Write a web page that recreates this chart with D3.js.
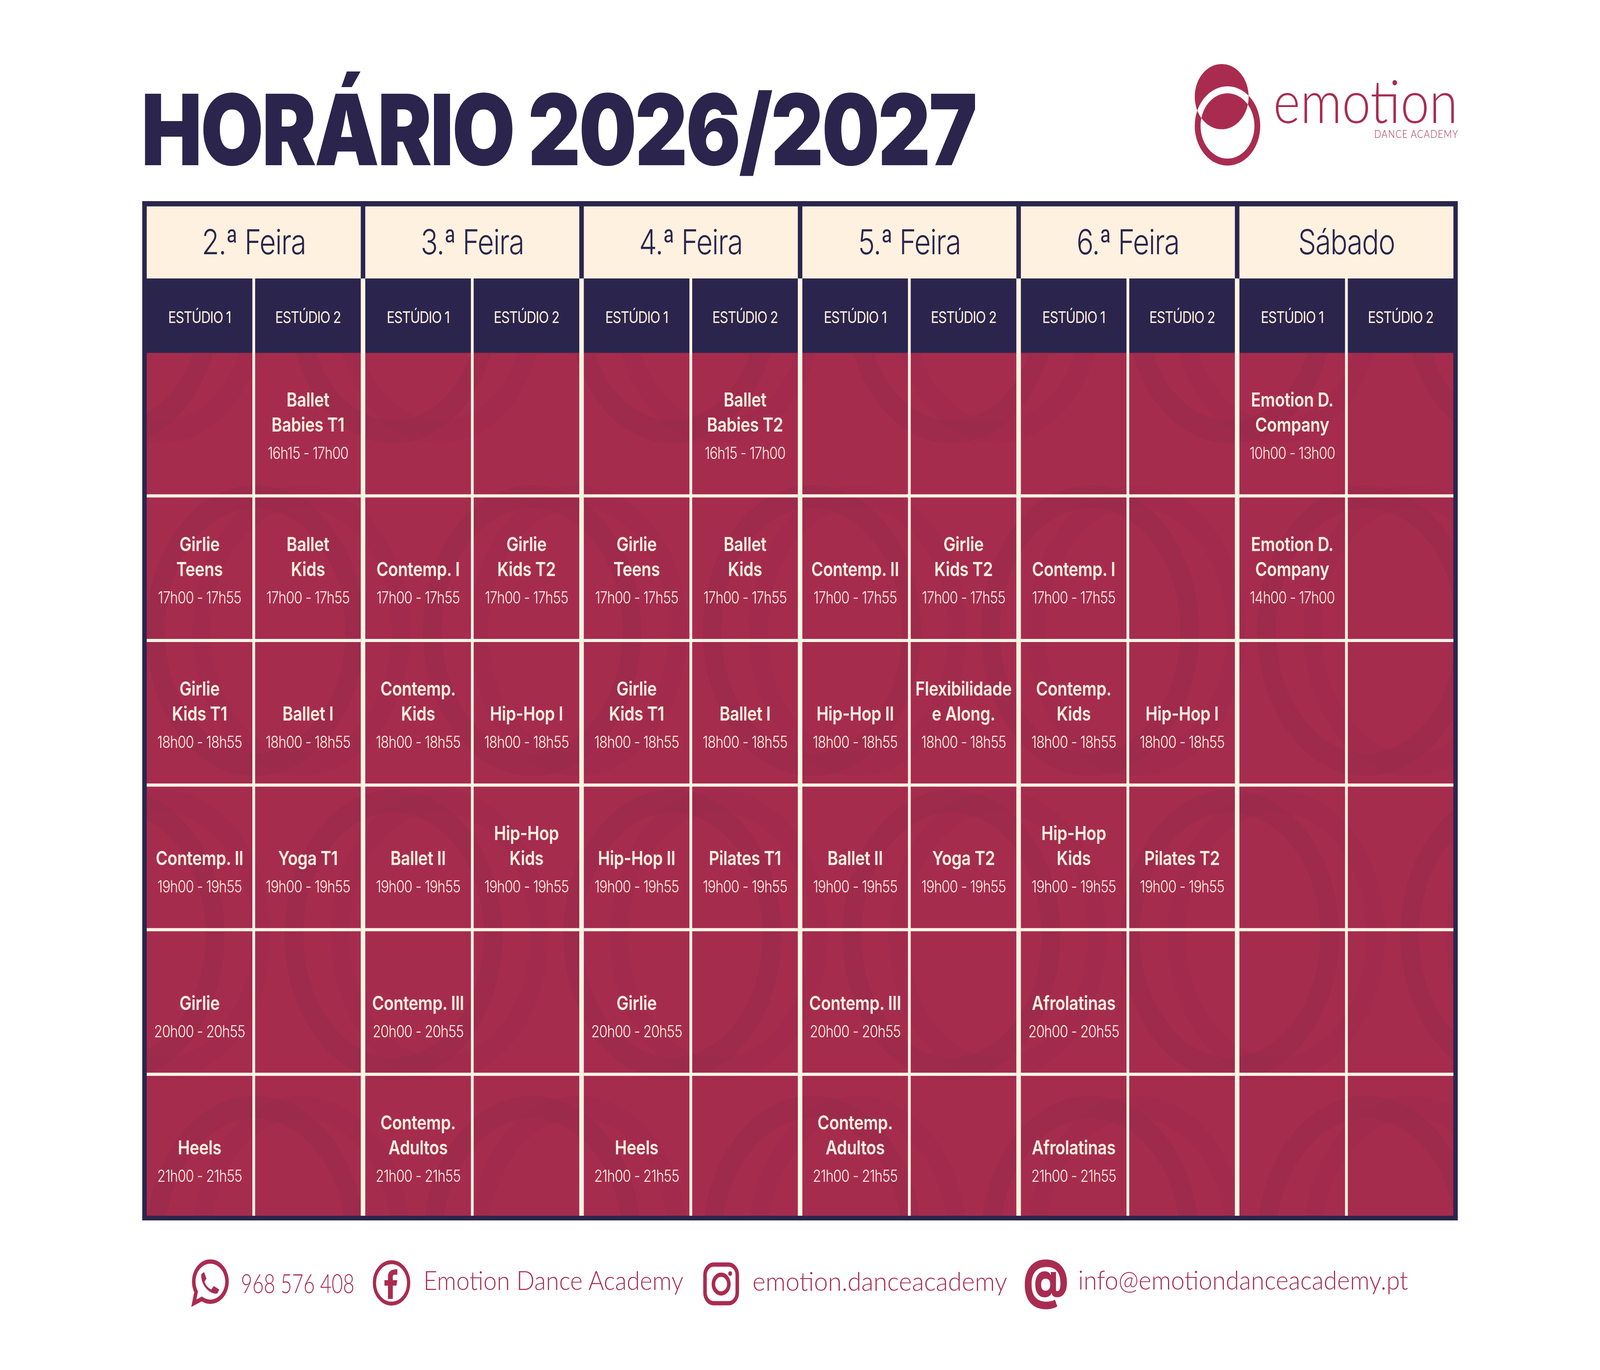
<!DOCTYPE html>
<html><head><meta charset="utf-8">
<script src="https://cdn.jsdelivr.net/npm/d3@7"></script>
<style>html,body{margin:0;padding:0;background:#fff;overflow:hidden}svg{display:block}</style>
</head><body><div id="chart"></div>
<script>
const days=["2.ª Feira","3.ª Feira","4.ª Feira","5.ª Feira","6.ª Feira","Sábado"];
const studios=["ESTÚDIO 1","ESTÚDIO 2"];
const slotTimes=["16h15 - 17h00","17h00 - 17h55","18h00 - 18h55","19h00 - 19h55","20h00 - 20h55","21h00 - 21h55"];
const saturdayTimes=["10h00 - 13h00","14h00 - 17h00",null,null,null,null];
const mon1=[null,"Girlie|Teens","Girlie|Kids T1","Contemp. II","Girlie","Heels"];
const mon2=["Ballet|Babies T1","Ballet|Kids","Ballet I","Yoga T1",null,null];
const tue1=[null,"Contemp. I","Contemp.|Kids","Ballet II","Contemp. III","Contemp.|Adultos"];
const tue2=[null,"Girlie|Kids T2","Hip-Hop I","Hip-Hop|Kids",null,null];
const wed1=[null,"Girlie|Teens","Girlie|Kids T1","Hip-Hop II","Girlie","Heels"];
const wed2=["Ballet|Babies T2","Ballet|Kids","Ballet I","Pilates T1",null,null];
const thu1=[null,"Contemp. II","Hip-Hop II","Ballet II","Contemp. III","Contemp.|Adultos"];
const thu2=[null,"Girlie|Kids T2","Flexibilidade|e Along.","Yoga T2",null,null];
const fri1=[null,"Contemp. I","Contemp.|Kids","Hip-Hop|Kids","Afrolatinas","Afrolatinas"];
const fri2=[null,null,"Hip-Hop I","Pilates T2",null,null];
const sat1=["Emotion D.|Company","Emotion D.|Company",null,null,null,null];
const sat2=[null,null,null,null,null,null];
const columns=[mon1,mon2,tue1,tue2,wed1,wed2,thu1,thu2,fri1,fri2,sat1,sat2];

const W=4961,H=3508;
const NAVY="#2B254D",CRIM="#A62C4E",RING="#98294A",CREAM="#FFF1DF",LINE="#FFF5E4",LOGO="#A92C50";
const FONT="Inter, sans-serif",GEO="Lato, sans-serif";
const svg=d3.select("#chart").append("svg").style("width","100vw").style("height","100vh")
  .attr("viewBox",`0 0 ${W} ${H}`).attr("preserveAspectRatio","none");
svg.append("rect").attr("width",W).attr("height",H).attr("fill","#fff");

const L=455,R=4506,T=528.5,dayB=713,stuB=903.5,B=3113;
const x0=d3.scaleBand().domain(days).range([L,R+0.5]).paddingInner(14/677.5);
const x1=d3.scaleBand().domain(studios).range([0,x0.bandwidth()]).paddingInner(8.5/332);
const y=d3.scaleBand().domain(d3.range(slotTimes.length)).range([stuB,B+4]).paddingInner(8/368);

svg.append("text").attr("x",438).attr("y",423).attr("font-family",FONT).attr("font-weight",900)
  .attr("font-size",252).attr("fill",NAVY).attr("textLength",2592).attr("lengthAdjust","spacing").text("HORÁRIO 2026/2027");

const defs=svg.append("defs");
defs.append("clipPath").attr("id","disc").append("circle").attr("cx",3788).attr("cy",247.5).attr("r",83.5);
defs.append("clipPath").attr("id","body").append("rect").attr("x",L).attr("y",stuB).attr("width",R-L).attr("height",B-stuB);
const logo=svg.append("g");
logo.append("circle").attr("cx",3806).attr("cy",322.5).attr("r",92.5).attr("fill","none").attr("stroke",LOGO).attr("stroke-width",18);
logo.append("circle").attr("cx",3788).attr("cy",247.5).attr("r",83.5).attr("fill",LOGO);
logo.append("circle").attr("cx",3806).attr("cy",322.5).attr("r",92.5).attr("fill","none").attr("stroke","#fff").attr("stroke-width",18).attr("clip-path","url(#disc)");
svg.append("text").attr("x",3948).attr("y",315).attr("font-family",GEO).attr("font-weight",300).attr("font-size",152)
  .attr("fill",LOGO).attr("textLength",572).attr("lengthAdjust","spacingAndGlyphs").text("emotion");
svg.append("text").attr("x",4261).attr("y",353).attr("font-family",GEO).attr("font-weight",300).attr("font-size",28)
  .attr("fill",LOGO).attr("textLength",259).text("DANCE ACADEMY");

svg.append("rect").attr("x",441).attr("y",515).attr("width",4520-441).attr("height",3125-515).attr("fill",NAVY);
svg.append("rect").attr("x",L).attr("y",stuB).attr("width",R-L).attr("height",B-stuB).attr("fill",CRIM);

const ringX=[358,1220,2085,2950,3814,4680],ringX2=[791,1650,2517,3380,4236];
const ringRows=[[790,ringX,320,345],[1615,ringX2,338,372],[2394,ringX,338,372],[3178,ringX2,338,372]];
const rings=svg.append("g").attr("clip-path","url(#body)");
ringRows.forEach(([cy,xs,rx,ry])=>xs.forEach(cx=>{
  rings.append("ellipse").attr("cx",cx+143).attr("cy",cy).attr("rx",rx-29).attr("ry",ry-29).attr("fill","none")
    .attr("stroke",RING).attr("stroke-opacity",.2).attr("stroke-width",58);
  rings.append("ellipse").attr("cx",cx).attr("cy",cy).attr("rx",rx-29).attr("ry",ry-29).attr("fill","none")
    .attr("stroke",RING).attr("stroke-opacity",.55).attr("stroke-width",58);
}));

svg.append("g").selectAll("rect").data(days).join("rect").attr("x",d=>x0(d)).attr("y",T)
  .attr("width",x0.bandwidth()).attr("height",dayB-T).attr("fill",CREAM);
svg.append("g").selectAll("text").data(days).join("text").attr("x",d=>x0(d)+x0.bandwidth()/2).attr("y",651)
  .attr("text-anchor","middle").attr("font-family",FONT).attr("font-weight",300).attr("font-size",88)
  .attr("letter-spacing",-2).attr("fill",NAVY).text(d=>d);

days.forEach((d,i)=>{
  if(i<days.length-1) svg.append("rect").attr("x",x0(d)+x0.bandwidth()).attr("y",dayB).attr("width",x0.step()-x0.bandwidth()).attr("height",B-dayB).attr("fill",LINE);
  svg.append("rect").attr("x",x0(d)+x1.bandwidth()).attr("y",dayB).attr("width",x1.step()-x1.bandwidth()).attr("height",B-dayB).attr("fill",LINE);
  studios.forEach(s=>{
    svg.append("text").attr("x",x0(d)+x1(s)+x1.bandwidth()/2).attr("y",827).attr("text-anchor","middle")
      .attr("font-family",FONT).attr("font-size",41).attr("letter-spacing",-1.5).attr("fill",CREAM).text(s);
  });
});
d3.range(slotTimes.length-1).forEach(r=>{
  days.forEach(d=>svg.append("rect").attr("x",x0(d)).attr("y",y(r)+y.bandwidth()).attr("width",x0.bandwidth())
    .attr("height",y.step()-y.bandwidth()).attr("fill",LINE));
});

const flat=[];
columns.forEach((col,c)=>col.forEach((name,r)=>{ if(name) flat.push({name,r,c,
   time:c===10?saturdayTimes[r]:slotTimes[r]}); }));
const cell=svg.append("g").selectAll("g").data(flat).join("g").attr("transform",d=>{
  const day=days[Math.floor(d.c/2)],st=studios[d.c%2];
  return `translate(${x0(day)+x1(st)+x1.bandwidth()/2},${y(d.r)+y.bandwidth()/2})`;
}).attr("text-anchor","middle").attr("font-family",FONT);
cell.each(function(d){
  const g=d3.select(this),lines=d.name.split("|");
  lines.forEach((ln,i)=>g.append("text").attr("y",20-(lines.length-1-i)*64).attr("font-size",50).attr("font-weight",600)
    .attr("letter-spacing",-.4).attr("fill",CREAM).text(ln));
  g.append("text").attr("y",90).attr("font-size",42).attr("font-weight",300).attr("letter-spacing",-1.2).attr("fill",CREAM).text(d.time);
});

const foot=svg.append("g").attr("fill",LOGO);
const contacts=[["968 576 408",747,3311,352],["Emotion Dance Academy",1313,3303,806],["emotion.danceacademy",2333,3305,790],["info@emotiondanceacademy.pt",3343,3302,1023]];
foot.selectAll("text.c").data(contacts).join("text").attr("class","c").attr("x",d=>d[1]).attr("y",d=>d[2])
  .attr("font-family",GEO).attr("font-weight",300).attr("font-size",66).attr("textLength",d=>d[3]).attr("lengthAdjust","spacingAndGlyphs").text(d=>d[0]);
foot.append("path").attr("d","M626,3326 A51.5,51.5 0 1 0 608,3308 L601,3337 Z").attr("fill","none").attr("stroke",LOGO).attr("stroke-width",11);
foot.append("path").attr("d","M624,3263 L633,3257 L640,3274 L634,3282 C638,3291 645,3298 655,3302 L663,3293 L680,3302 L674,3312 C650,3316 622,3290 624,3263Z");
foot.append("circle").attr("cx",1214).attr("cy",3285).attr("r",53).attr("fill","none").attr("stroke",LOGO).attr("stroke-width",10);
foot.append("path").attr("d","M1203,3326 V3292 H1192 V3278 H1203 V3268 C1203,3256 1212,3250 1232,3250 V3264 H1224 C1219,3264 1218,3266 1218,3270 V3278 H1232 L1229,3292 H1218 V3326 Z");
foot.append("rect").attr("x",2186).attr("y",3238).attr("width",100).attr("height",99).attr("rx",27).attr("fill","none").attr("stroke",LOGO).attr("stroke-width",11);
foot.append("circle").attr("cx",2236).attr("cy",3288).attr("r",24).attr("fill","none").attr("stroke",LOGO).attr("stroke-width",11);
foot.append("circle").attr("cx",2264).attr("cy",3261).attr("r",6);
foot.append("text").attr("x",3243).attr("y",3323).attr("text-anchor","middle").attr("font-family",FONT).attr("font-weight",900).attr("font-size",132).text("@");
</script></body></html>
